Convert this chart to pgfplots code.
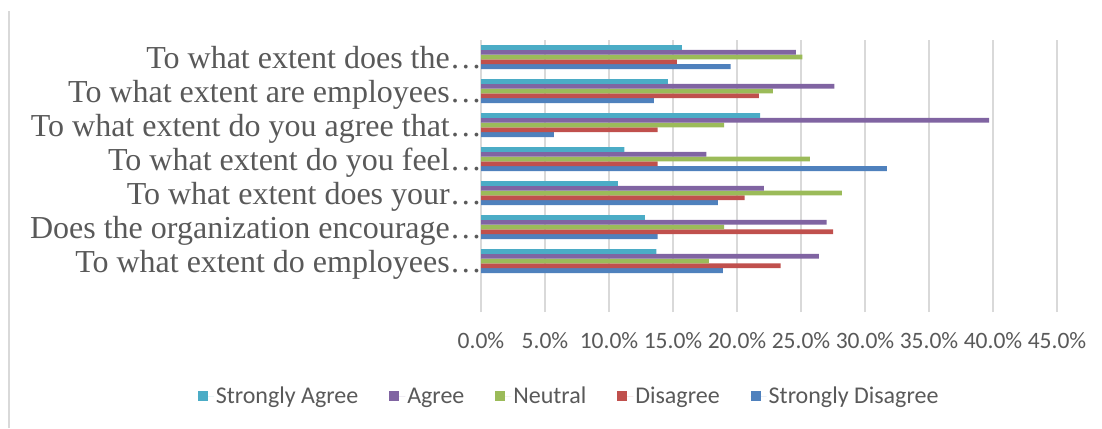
\documentclass[border=0pt]{standalone}
\usepackage{pgfplots}
\pgfplotsset{compat=1.18}
\usepackage{fontspec}
\setmainfont{Liberation Serif}
\newfontfamily\calibri{Carlito}
\definecolor{cSA}{HTML}{4BACC6}
\definecolor{cA}{HTML}{8064A2}
\definecolor{cN}{HTML}{9BBB59}
\definecolor{cD}{HTML}{C0504D}
\definecolor{cSD}{HTML}{4F81BD}
\definecolor{txt}{HTML}{595959}
\definecolor{gridc}{HTML}{D9D9D9}
\begin{document}
\begin{tikzpicture}[x=1bp,y=1bp]
\useasboundingbox (0,0) rectangle (1102,428);
\draw[gridc, line width=1.8bp] (9,0) -- (9,417);
\begin{axis}[
  at={(481bp,116bp)}, anchor=south west,
  scale only axis, width=576bp, height=272bp,
  xbar=0pt, bar width=4.8bp,
  xmin=0, xmax=45, ymin=-0.5, ymax=7.5,
  xtick={0,5,...,45},
  xticklabels={0.0\%,5.0\%,10.0\%,15.0\%,20.0\%,25.0\%,30.0\%,35.0\%,40.0\%,45.0\%},
  ytick={1,2,3,4,5,6,7},
  yticklabels={To what extent do employees…,Does the organization encourage…,To what extent does your…,To what extent do you feel…,To what extent do you agree that…,To what extent are employees…,To what extent does the…},
  xmajorgrids, major grid style={gridc, line width=1.8bp},
  axis line style={draw=none},
  major tick length=0pt,
  xticklabel style={font=\calibri\fontsize{23.5bp}{27bp}\selectfont, text=txt, anchor=base, yshift=-36bp},
  yticklabel style={font=\fontsize{32bp}{35bp}\selectfont, text=txt, anchor=base east, xshift=1bp, yshift=-11bp, inner sep=0pt},
  legend columns=-1, reverse legend,
  legend style={at={(0.153,-0.309)}, anchor=center, draw=none, fill=none,
    font=\calibri\fontsize{24bp}{28bp}\selectfont, text=txt,
    /tikz/every even column/.append style={column sep=29bp}},
  legend image code/.code={\fill[#1] (0bp,-5bp) rectangle (10bp,5bp); \path (0bp,0bp) -- (16bp,0bp);},
]
\addplot[fill=cSD, draw=none] coordinates {(18.9,1) (13.8,2) (18.5,3) (31.7,4) (5.7,5) (13.5,6) (19.5,7)};
\addplot[fill=cD, draw=none] coordinates {(23.4,1) (27.5,2) (20.6,3) (13.8,4) (13.8,5) (21.7,6) (15.3,7)};
\addplot[fill=cN, draw=none] coordinates {(17.8,1) (19.0,2) (28.2,3) (25.7,4) (19.0,5) (22.8,6) (25.1,7)};
\addplot[fill=cA, draw=none] coordinates {(26.4,1) (27.0,2) (22.1,3) (17.6,4) (39.7,5) (27.6,6) (24.6,7)};
\addplot[fill=cSA, draw=none] coordinates {(13.7,1) (12.8,2) (10.7,3) (11.2,4) (21.8,5) (14.6,6) (15.7,7)};
\legend{Strongly Disagree,Disagree,Neutral,Agree,Strongly Agree}
\end{axis}
\end{tikzpicture}
\end{document}
